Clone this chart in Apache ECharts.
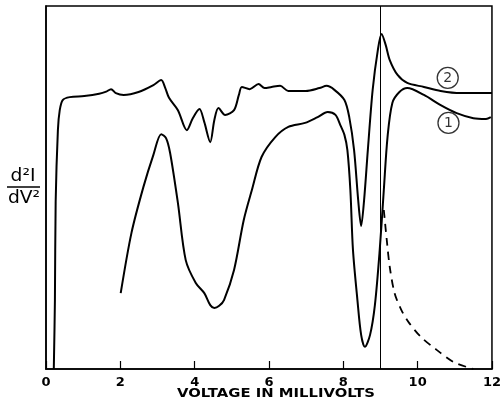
<!DOCTYPE html>
<html>
<head>
<meta charset="utf-8">
<script src="https://cdn.jsdelivr.net/npm/echarts@6/dist/echarts.min.js"></script>
<style>html,body{margin:0;padding:0;background:#fff}#c{width:504px;height:404px}</style>
</head>
<body>
<div id="c"></div>
<script>
// Curve 2 (upper) : [voltage mV, d2I/dV2 arbitrary units]
const curve2 = [
  [0.21,0],[0.24,19],[0.26,46],[0.32,65.8],[0.37,71.3],[0.45,74.1],[0.64,74.9],[1.03,75.2],
  [1.43,75.8],[1.62,76.4],[1.75,77.1],[1.88,76.0],[2.09,75.5],[2.49,76.3],[2.89,78.2],[3.10,79.6],
  [3.21,77.4],[3.31,74.7],[3.55,71.3],[3.79,65.8],[3.95,69.1],[4.13,71.6],[4.26,68],[4.42,62.5],
  [4.53,68.6],[4.64,71.9],[4.82,70],[5.06,71.3],[5.19,75.5],[5.27,77.7],[5.48,77.1],[5.72,78.5],
  [5.88,77.4],[6.07,77.7],[6.30,78],[6.52,76.6],[6.99,76.6],[7.36,77.4],[7.55,78],[7.76,76.9],
  [8.03,74.1],[8.16,69.4],[8.29,60.3],[8.40,46.6],[8.48,39.4],[8.56,46.6],[8.66,60.3],[8.79,76.9],
  [8.93,87.9],[9.03,92.3],[9.14,89.3],[9.25,85.1],[9.46,81],[9.72,78.8],[10.17,77.7],[10.62,76.6],
  [11.15,76],[12.0,76]
];
// Curve 1 (lower)
const curve1 = [
  [2.01,20.9],[2.30,37.5],[2.62,50.1],[2.89,59],[3.10,64.7],[3.23,63.6],[3.34,59.5],[3.55,45.7],
  [3.76,30],[4.03,23.7],[4.26,20.9],[4.42,17.6],[4.53,16.8],[4.66,17.4],[4.79,19],[5.06,27.3],
  [5.32,41],[5.54,49.3],[5.80,58.4],[6.17,63.9],[6.52,66.7],[6.97,67.8],[7.31,69.4],[7.58,70.8],
  [7.79,70],[7.92,67.2],[8.03,64.5],[8.11,60.3],[8.19,49.3],[8.26,32.8],[8.38,19],[8.48,9.4],
  [8.58,6.1],[8.72,9.4],[8.85,17.6],[8.98,32.8],[9.09,49.3],[9.19,63.9],[9.32,73.3],[9.51,76.3],
  [9.72,77.4],[10.17,75.5],[10.62,72.7],[11.05,70.5],[11.50,69.1],[11.84,68.9],[11.97,69.4]
];
// Dashed curve
const dashed = [
  [9.09,43.8],[9.17,35.5],[9.25,28.1],[9.38,20.9],[9.56,16.3],[9.77,12.7],[10.09,8.8],
  [10.52,5.2],[10.97,1.9],[11.50,0]
];
const markerX = 9;
const curveLabels = [[10.81,80.2,'2'],[10.83,67.8,'1']];
const xTicks = [0,2,4,6,8,10,12];
const xTitle = 'VOLTAGE IN MILLIVOLTS';

const chart = echarts.init(document.getElementById('c'), null, {renderer:'canvas'});
const lineCommon = {type:'line', showSymbol:false, smooth:0.3, silent:true,
  lineStyle:{color:'#000', width:2}};
chart.setOption({
  animation:false,
  backgroundColor:'#fff',
  grid:{left:46, right:5, top:6, bottom:35, show:true, borderColor:'#000', borderWidth:1.5},
  xAxis:{type:'value', min:0, max:12, interval:2,
    axisLine:{show:true, lineStyle:{color:'#000', width:1.5}},
    axisTick:{show:true, inside:true, length:8, lineStyle:{color:'#000', width:1.2}},
    axisLabel:{fontFamily:'DejaVu Sans', fontSize:13, fontWeight:'bold', color:'#000', margin:7,
      formatter:v => xTicks.includes(v) ? String(v) : ''},
    splitLine:{show:false}},
  yAxis:{type:'value', min:0, max:100,
    axisLine:{show:true, lineStyle:{color:'#000', width:1.5}},
    axisTick:{show:false}, axisLabel:{show:false}, splitLine:{show:false}},
  graphic:[
    {type:'text', x:276, y:394, scaleX:1.14, style:{text:xTitle, fontFamily:'DejaVu Sans',
      fontSize:13, fontWeight:'bold', fill:'#000', align:'center', verticalAlign:'middle'}},
    {type:'text', x:23, y:177, scaleX:1.1, style:{text:'d²I', fontFamily:'DejaVu Sans', fontSize:17,
      fill:'#000', align:'center', verticalAlign:'middle'}},
    {type:'line', shape:{x1:7, y1:187, x2:40, y2:187}, style:{stroke:'#000', lineWidth:1.3}},
    {type:'text', x:24, y:199, scaleX:1.1, style:{text:'dV²', fontFamily:'DejaVu Sans', fontSize:17,
      fill:'#000', align:'center', verticalAlign:'middle'}}
  ],
  series:[
    Object.assign({}, lineCommon, {name:'2', data:curve2,
      markLine:{silent:true, symbol:'none', label:{show:false},
        lineStyle:{color:'#000', width:1, type:'solid'}, data:[{xAxis:markerX}]}}),
    Object.assign({}, lineCommon, {name:'1', data:curve1}),
    Object.assign({}, lineCommon, {name:'dashed', data:dashed,
      lineStyle:{color:'#000', width:1.8, type:[8,6]}}),
    {type:'scatter', silent:true, data:curveLabels.map(d=>({value:[d[0],d[1]], name:d[2]})),
      symbol:'circle', symbolSize:21,
      itemStyle:{color:'#fff', borderColor:'#000', borderWidth:1.3},
      label:{show:true, position:'inside', formatter:p=>p.name,
        fontFamily:'DejaVu Sans', fontSize:14, color:'#000'}}
  ]
});
</script>
</body>
</html>
